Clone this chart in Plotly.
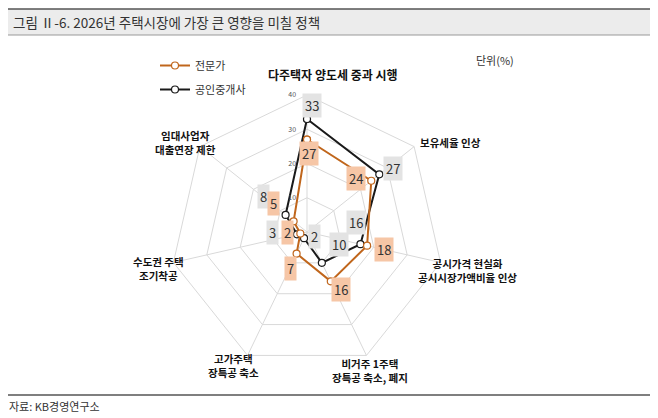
import math
import plotly.graph_objects as go

categories = [
    "다주택자 양도세 중과 시행",
    "보유세율 인상",
    "공시가격 현실화 공시시장가액비율 인상",
    "비거주 1주택 장특공 축소, 폐지",
    "고가주택 장특공 축소",
    "수도권 주택 조기착공",
    "임대사업자 대출연장 제한",
]
category_labels = [
    "다주택자 양도세 중과 시행",
    "보유세율 인상",
    "공시가격 현실화<br>공시시장가액비율 인상",
    "비거주 1주택<br>장특공 축소, 폐지",
    "고가주택<br>장특공 축소",
    "수도권 주택<br>조기착공",
    "임대사업자<br>대출연장 제한",
]
expert = [27, 24, 18, 16, 7, 2, 5]
broker = [33, 27, 16, 10, 2, 3, 8]
radial_ticks = [10, 20, 30, 40]

OFF = 8                      # page body margin
W, H = 658 - OFF, 418 - OFF  # figure size
CX, CY, R = 307, 232, 137    # screen pixels
RMAX = 40

def PX(sx):
    return (sx - OFF) / W

def PY(sy):
    return 1 - (sy - OFF) / H

dom_x = [PX(CX - R), PX(CX + R)]
dom_y = [PY(CY + R), PY(CY - R)]

ORANGE = "#c0661c"
BLACK = "#1a1a1a"
GRID = "#d9d9d9"
FONT = "Noto Sans CJK KR"

fig = go.Figure()
fig.add_trace(go.Scatterpolar(
    r=broker + broker[:1], theta=categories + categories[:1],
    mode="lines+markers", name="공인중개사", legendrank=2, legendgroup="broker",
    line=dict(color=BLACK, width=2),
    marker=dict(size=7, color="white", line=dict(color=BLACK, width=1.2)),
))
fig.add_trace(go.Scatterpolar(
    r=expert + expert[:1], theta=categories + categories[:1],
    mode="lines+markers", name="전문가", legendrank=1, legendgroup="expert",
    line=dict(color=ORANGE, width=2),
    marker=dict(size=7, color="white", line=dict(color=ORANGE, width=1.2)),
))

fig.update_layout(
    width=W, height=H,
    margin=dict(l=0, r=0, t=0, b=0),
    paper_bgcolor="white",
    font=dict(family=FONT, color="#333333"),
    showlegend=True,
    legend=dict(x=PX(155), y=PY(51), xanchor="left", yanchor="top",
                bgcolor="rgba(0,0,0,0)", font=dict(size=11, color="#333333"),
                tracegroupgap=5, itemwidth=30),
    polar=dict(
        domain=dict(x=dom_x, y=dom_y),
        bgcolor="white",
        gridshape="linear",
        angularaxis=dict(rotation=90, direction="clockwise",
                         showticklabels=False, ticks="",
                         gridcolor=GRID, linecolor=GRID, linewidth=1),
        radialaxis=dict(range=[0, RMAX], tickvals=radial_ticks, angle=90,
                        side="counterclockwise", showline=False, tickangle=90,
                        ticks="outside", ticklen=8, tickcolor="rgba(0,0,0,0)",
                        gridcolor=GRID, tickfont=dict(size=7, color="#555555")),
    ),
)

def to_paper(k, r):
    ang = math.radians(360 / len(categories) * k)
    sx = CX + (r / RMAX) * R * math.sin(ang)
    sy = CY - (r / RMAX) * R * math.cos(ang)
    return PX(sx), PY(sy)

ann = []
# data labels (offsets in pixels)
broker_off = [(5, -13), (14, -6), (-4, -22), (17, -18), (10, -2), (-24, -2), (-22, -18)]
expert_off = [(2, 14), (-15, -2), (17, 4), (10, 8), (-6, 15), (-13, -1), (-20, -18)]
for k, v in enumerate(broker):
    x, y = to_paper(k, v)
    dx, dy = broker_off[k]
    ann.append(dict(x=x, y=y, xref="paper", yref="paper", text=str(v), showarrow=False,
                    xanchor="center", yanchor="middle",
                    xshift=dx, yshift=-dy, bgcolor="#e3e3e3", borderpad=2,
                    font=dict(size=13, color="#333333", family=FONT)))
for k, v in enumerate(expert):
    x, y = to_paper(k, v)
    dx, dy = expert_off[k]
    ann.append(dict(x=x, y=y, xref="paper", yref="paper", text=str(v), showarrow=False,
                    xanchor="center", yanchor="middle",
                    xshift=dx, yshift=-dy, bgcolor="#f6c6a6", borderpad=2,
                    font=dict(size=13, color="#333333", family=FONT)))

# category labels
label_pos = [(333, 74), (450, 142), (467, 270), (370, 370), (233, 365), (158, 268), (185, 142)]
label_size = [12, 10.5, 10.5, 10.5, 10.5, 10.5, 10.5]
for (sx, sy), t, fs in zip(label_pos, category_labels, label_size):
    ann.append(dict(x=PX(sx), y=PY(sy), xref="paper", yref="paper", text="<b>" + t + "</b>",
                    showarrow=False, align="center", xanchor="center", yanchor="middle",
                    font=dict(size=fs, color="#111111", family=FONT)))

# title, unit, source
ann.append(dict(x=PX(11), y=PY(22), xref="paper", yref="paper", xanchor="left", yanchor="middle",
                text="그림 Ⅱ-6. 2026년 주택시장에 가장 큰 영향을 미칠 정책", showarrow=False,
                font=dict(size=13.5, color="#333333", family=FONT)))
ann.append(dict(x=PX(495), y=PY(60), xref="paper", yref="paper", xanchor="center", yanchor="middle",
                text="단위(%)", showarrow=False,
                font=dict(size=11, color="#333333", family=FONT)))
ann.append(dict(x=PX(7), y=PY(406), xref="paper", yref="paper", xanchor="left", yanchor="middle",
                text="자료: KB경영연구소", showarrow=False,
                font=dict(size=11, color="#333333", family=FONT)))
fig.update_layout(annotations=ann)

shapes = [
    dict(type="rect", xref="paper", yref="paper", x0=PX(5), x1=PX(650),
         y0=PY(35), y1=PY(9), fillcolor="#ececec", line=dict(width=0), layer="below"),
    dict(type="line", xref="paper", yref="paper", x0=PX(5), x1=PX(650),
         y0=PY(9), y1=PY(9), line=dict(color="#555555", width=1.5)),
    dict(type="line", xref="paper", yref="paper", x0=PX(5), x1=PX(650),
         y0=PY(35), y1=PY(35), line=dict(color="#999999", width=1)),
    dict(type="line", xref="paper", yref="paper", x0=PX(5), x1=PX(650),
         y0=PY(395), y1=PY(395), line=dict(color="#555555", width=1.5)),
]
fig.update_layout(shapes=shapes)

fig.write_html("out.html")
